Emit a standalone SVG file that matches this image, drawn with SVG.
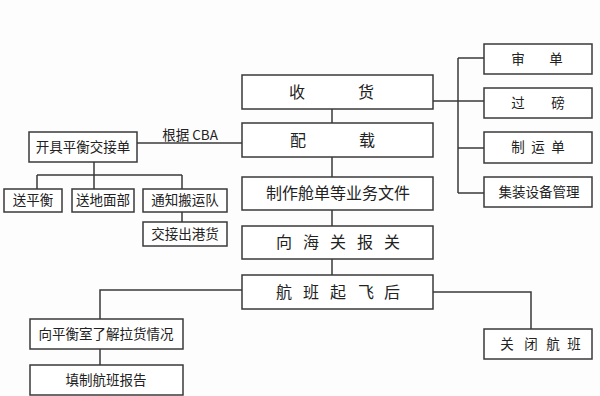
<svg xmlns="http://www.w3.org/2000/svg" width="600" height="396" viewBox="0 0 600 396">
<style>
.b{fill:#fff;stroke:#3a3a3a;stroke-width:1.5}
.t{font-family:"Noto Sans CJK SC","Noto Sans",sans-serif;fill:#222;text-anchor:middle}
.m{font-size:16px}
.s{font-size:13.5px}
.c{fill:none;stroke:#3a3a3a;stroke-width:1.5}
</style>
<rect width="600" height="396" fill="#fdfdfd"/>
<g id="connectors">
<path class="c" d="M332 109V123M332 157V177M332 210V226M332 259V275"/>
<path class="c" d="M433 101H484M458 58V193M458 58H484M458 148H484M458 193H484"/>
<path class="c" d="M137 143H242"/>
<path class="c" d="M94 162V189M37 175H182M37 175V189M182 175V189M182 212V222"/>
<path class="c" d="M242 290H100V319M100 349V365"/>
<path class="c" d="M433 292H531V329"/>
<text class="t s" x="190" y="140">根据 CBA</text>
</g>
<g id="n-shouhuo"><rect class="b" x="242" y="75" width="191" height="34"/><text class="t m" x="297 366" y="98">收货</text></g>
<g id="n-peizai"><rect class="b" x="242" y="123" width="191" height="34"/><text class="t m" x="298 367" y="146">配载</text></g>
<g id="n-zhizuo"><rect class="b" x="242" y="177" width="191" height="33"/><text class="t m" x="338" y="199">制作舱单等业务文件</text></g>
<g id="n-baoguan"><rect class="b" x="242" y="226" width="191" height="33"/><text class="t m" x="284 311 338 365 392" y="248">向海关报关</text></g>
<g id="n-qifei"><rect class="b" x="242" y="275" width="191" height="34"/><text class="t m" x="284 311 338 366 392" y="298">航班起飞后</text></g>
<g id="n-shendan"><rect class="b" x="484" y="44" width="108" height="30"/><text class="t s" x="518 556" y="64">审单</text></g>
<g id="n-guobang"><rect class="b" x="484" y="88" width="108" height="30"/><text class="t s" x="518 558" y="108">过磅</text></g>
<g id="n-zhiyundan"><rect class="b" x="484" y="132" width="108" height="31"/><text class="t s" x="518 538 558" y="152">制运单</text></g>
<g id="n-jizhuang"><rect class="b" x="484" y="177" width="108" height="30"/><text class="t s" x="539" y="197">集装设备管理</text></g>
<g id="n-kaiju"><rect class="b" x="29" y="132" width="108" height="30"/><text class="t s" x="83" y="152">开具平衡交接单</text></g>
<g id="n-songpingheng"><rect class="b" x="4" y="189" width="58" height="23"/><text class="t s" x="33" y="205">送平衡</text></g>
<g id="n-songdimian"><rect class="b" x="72" y="189" width="62" height="23"/><text class="t s" x="103" y="205">送地面部</text></g>
<g id="n-tongzhi"><rect class="b" x="143" y="189" width="84" height="23"/><text class="t s" x="185" y="205">通知搬运队</text></g>
<g id="n-jiaojie"><rect class="b" x="143" y="222" width="84" height="24"/><text class="t s" x="185" y="239">交接出港货</text></g>
<g id="n-xiangpingheng"><rect class="b" x="30" y="319" width="153" height="30"/><text class="t s" x="106" y="339">向平衡室了解拉货情况</text></g>
<g id="n-tianzhi"><rect class="b" x="30" y="365" width="153" height="30"/><text class="t s" x="106" y="385">填制航班报告</text></g>
<g id="n-guanbi"><rect class="b" x="484" y="329" width="108" height="30"/><text class="t s" x="507 531 553 574" y="349">关闭航班</text></g>
</svg>
